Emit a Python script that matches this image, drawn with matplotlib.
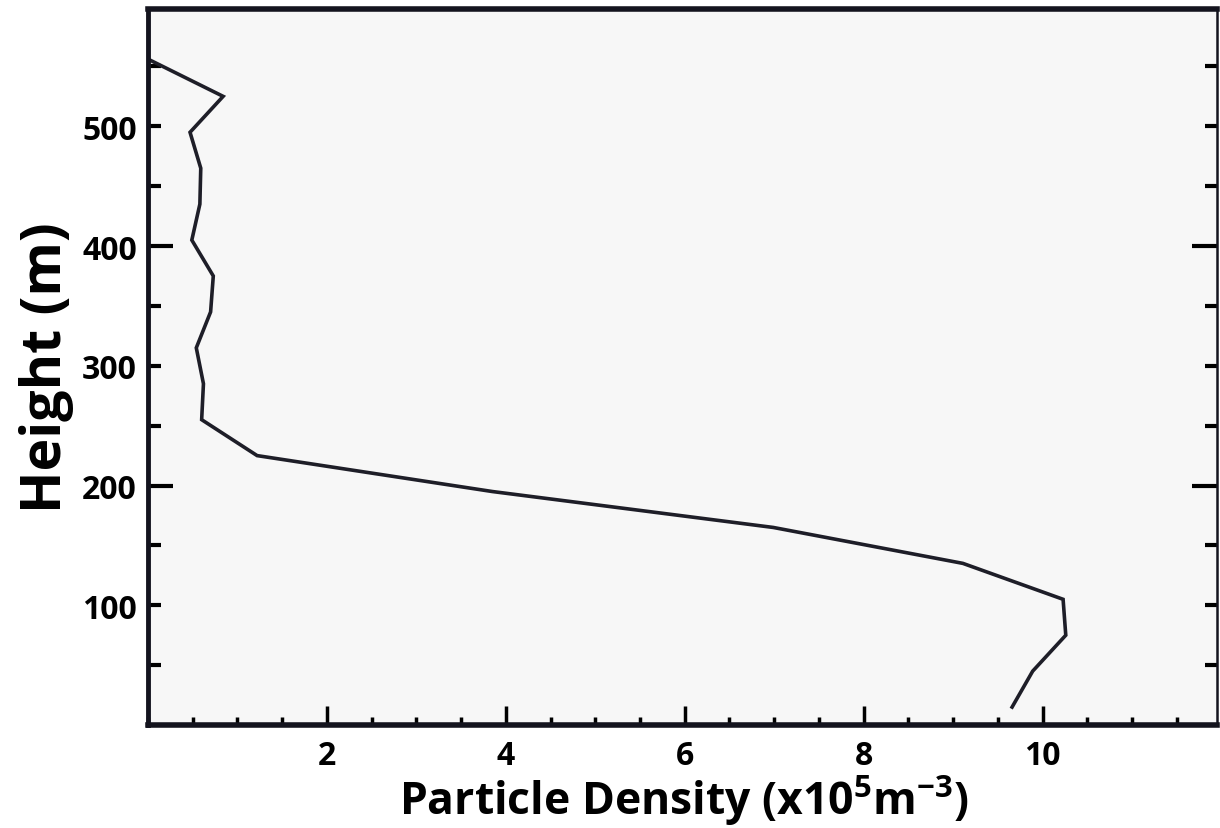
import matplotlib.pyplot as plt
from matplotlib.ticker import MultipleLocator, FixedLocator, FixedFormatter

# data
height = [15, 45, 75, 105, 135, 165, 195, 225, 255, 285,
          315, 345, 375, 405, 435, 465, 495, 525, 555]
density = [9.66, 9.89, 10.26, 10.23, 9.11, 6.99, 3.85, 1.22, 0.60, 0.62,
           0.54, 0.70, 0.73, 0.49, 0.58, 0.59, 0.47, 0.84, 0.03]

x_major = [2, 4, 6, 8, 10]
y_long = [200, 400]

plt.rcParams['font.family'] = ['Open Sans', 'DejaVu Sans']
plt.rcParams['font.weight'] = 'bold'
plt.rcParams['mathtext.fontset'] = 'custom'
plt.rcParams['mathtext.rm'] = 'Open Sans:bold'
plt.rcParams['mathtext.it'] = 'Open Sans:bold'
plt.rcParams['mathtext.default'] = 'rm'

fig = plt.figure(figsize=(12.2, 8.29), dpi=100)
ax = fig.add_axes([0.1213, 0.1242, 0.8762, 0.8638])
ax.set_facecolor('#f7f7f7')

ax.plot(density, height, color='#1e1e28', lw=2.6, solid_joinstyle='miter')

ax.set_xlim(0, 11.95)
ax.set_ylim(0, 598)

# x ticks: long at even values, short every 0.5
ax.xaxis.set_major_locator(FixedLocator(x_major))
ax.xaxis.set_minor_locator(MultipleLocator(0.5))
ax.tick_params(axis='x', which='major', direction='in', length=14, width=2.5,
               labelsize=23, pad=10, top=False)
ax.tick_params(axis='x', which='minor', direction='in', length=6, width=2.5, top=False)

# y ticks: long at 200/400, short every 50, labels every 100
ax.yaxis.set_major_locator(FixedLocator(y_long))
ax.yaxis.set_major_formatter(FixedFormatter([str(v) for v in y_long]))
minor_y = [v for v in range(50, 600, 50) if v not in y_long]
ax.yaxis.set_minor_locator(FixedLocator(minor_y))
ax.yaxis.set_minor_formatter(FixedFormatter([str(v) if v % 100 == 0 else '' for v in minor_y]))
ax.tick_params(axis='y', which='major', direction='in', length=18, width=3,
               labelsize=23, pad=8, right=True)
ax.tick_params(axis='y', which='minor', direction='in', length=9, width=3,
               labelsize=23, pad=8, right=True)

for side, w in [('top', 4), ('left', 3.5), ('bottom', 4), ('right', 1.8)]:
    ax.spines[side].set_linewidth(w)
    ax.spines[side].set_color('#14141e')

# x label placed by baseline so the superscript stays clear of the tick labels
fig.text(0.561, 1 - 815 / 829, r'Particle Density (x10$^{5}$m$^{-3}$)',
         fontsize=32, fontweight='bold', ha='center', va='baseline')
ax.set_ylabel('Height (m)', fontsize=40, fontweight='bold', labelpad=6)

fig.savefig('out.png', dpi=100)
